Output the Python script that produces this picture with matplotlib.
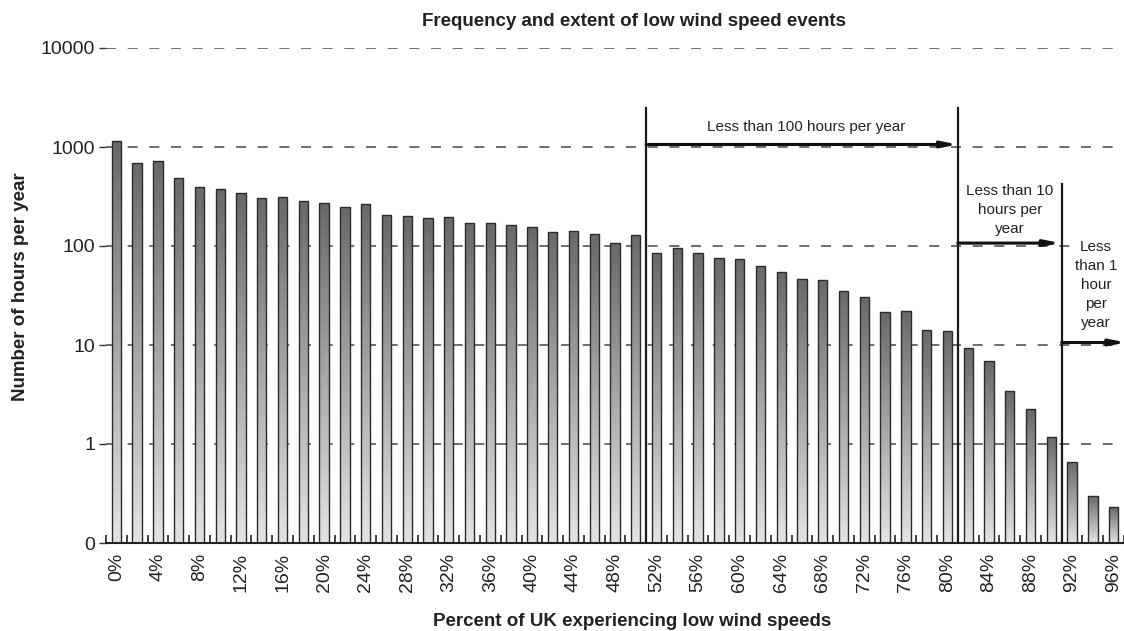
import numpy as np
import matplotlib
matplotlib.use("Agg")
import matplotlib.pyplot as plt
from matplotlib.colors import LinearSegmentedColormap

plt.rcParams['font.family'] = ['Liberation Sans', 'DejaVu Sans']

# percent of UK (every 2%) and hours per year
percents = list(range(0, 97, 2))
hours = [1150, 687, 726, 484, 392, 380, 346, 303, 315, 282,
         270, 245, 266, 207, 199, 194, 197, 169, 169, 164,
         157, 140, 143, 133, 108, 130, 84.5, 94.5, 85, 75,
         73.6, 63, 54, 46, 45, 35.5, 30.4, 21.5, 21.9, 14.3,
         13.7, 9.3, 6.85, 3.42, 2.27, 1.19, 0.66, 0.30, 0.23]

ytick_vals = [0.1, 1, 10, 100, 1000, 10000]
ytick_labels = ["0", "1", "10", "100", "1000", "10000"]
xtick_vals = list(range(0, 97, 4))
xtick_labels = [f"{v}%" for v in xtick_vals]

fig = plt.figure(figsize=(11.24, 6.31), dpi=100)
ax = fig.add_axes([106 / 1124, 1 - 543 / 631, 1018 / 1124, 495 / 631])
ax.set_yscale('log')
ax.set_ylim(0.1, 10000)
ax.set_xlim(-1, 97)

# dashed horizontal grid
for g in ytick_vals[1:]:
    ax.axhline(g, color='#555555', lw=1.2, ls=(0, (6, 7)), zorder=0)

# bars with vertical grey gradient (log axis floor is 0.1)
base = 0.1
cmap = LinearSegmentedColormap.from_list('g', ['#e2e2e2', '#6a6a6a'])
width = 0.9
for x, h in zip(percents, hours):
    ys = np.logspace(np.log10(base), np.log10(h), 41)
    xs = [x - width / 2, x + width / 2]
    c = np.linspace(0, 1, 40).reshape(-1, 1)
    ax.pcolormesh(xs, ys, c, cmap=cmap, vmin=0, vmax=1, shading='flat', zorder=2)
ax.bar(percents, [h - base for h in hours], width=width, bottom=base,
       facecolor='none', edgecolor='#2a2a2a', lw=1, zorder=3)

for s in ['top', 'right', 'left']:
    ax.spines[s].set_visible(False)
ax.spines['bottom'].set_linewidth(1.5)
ax.spines['bottom'].set_color('#222222')
ax.spines['bottom'].set_zorder(4)

ax.set_yticks(ytick_vals)
ax.set_yticklabels(ytick_labels)
ax.yaxis.set_minor_locator(matplotlib.ticker.NullLocator())
ax.tick_params(axis='y', direction='out', length=5, width=1, color='#333333',
               labelsize=14, pad=3, labelcolor='#222222')

ax.set_xticks(xtick_vals)
ax.set_xticklabels(xtick_labels, rotation=90)
ax.set_xticks(list(range(-1, 98, 2)), minor=True)
ax.tick_params(axis='x', which='major', length=0, labelsize=14, pad=7, labelcolor='#222222')
ax.tick_params(axis='x', which='minor', direction='in', length=6, width=1.2, color='#222222')

# annotation lines and arrows
line_kw = dict(color='#1a1a1a', lw=1.6, zorder=4)
ax.plot([51, 51], [base, 2480], **line_kw)
ax.plot([81, 81], [base, 2480], **line_kw)
ax.plot([91, 91], [base, 427], **line_kw)

arrow_kw = dict(arrowstyle='-|>,head_length=0.9,head_width=0.18', color='#111111',
                lw=2.2, shrinkA=0, shrinkB=0)
ax.annotate('', xy=(81, 1060), xytext=(51, 1060), arrowprops=arrow_kw, zorder=5)
ax.annotate('', xy=(90.9, 107), xytext=(81, 107), arrowprops=arrow_kw, zorder=5)
ax.annotate('', xy=(97.2, 10.6), xytext=(91, 10.6), arrowprops=arrow_kw,
            annotation_clip=False, zorder=5)

txt_kw = dict(ha='center', va='center', fontsize=11, color='#222222', linespacing=1.45)
ax.text(66.4, 1590, "Less than 100 hours per year", **txt_kw)
ax.text(86, 232, "Less than 10\nhours per\nyear", **txt_kw)
ax.text(94.3, 40, "Less\nthan 1\nhour\nper\nyear", zorder=6,
        bbox=dict(fc='white', ec='none', pad=1), **txt_kw)

fig.text(634 / 1124, 1 - 21 / 631, "Frequency and extent of low wind speed events",
         ha='center', va='center', fontsize=13.5, fontweight='bold', color='#222222')
fig.text(21 / 1124, 1 - 287 / 631, "Number of hours per year", rotation=90,
         ha='center', va='center', fontsize=13.5, fontweight='bold', color='#222222')
fig.text(632 / 1124, 1 - 621 / 631, "Percent of UK experiencing low wind speeds",
         ha='center', va='center', fontsize=13.5, fontweight='bold', color='#222222')

fig.savefig('out.png', dpi=100)
